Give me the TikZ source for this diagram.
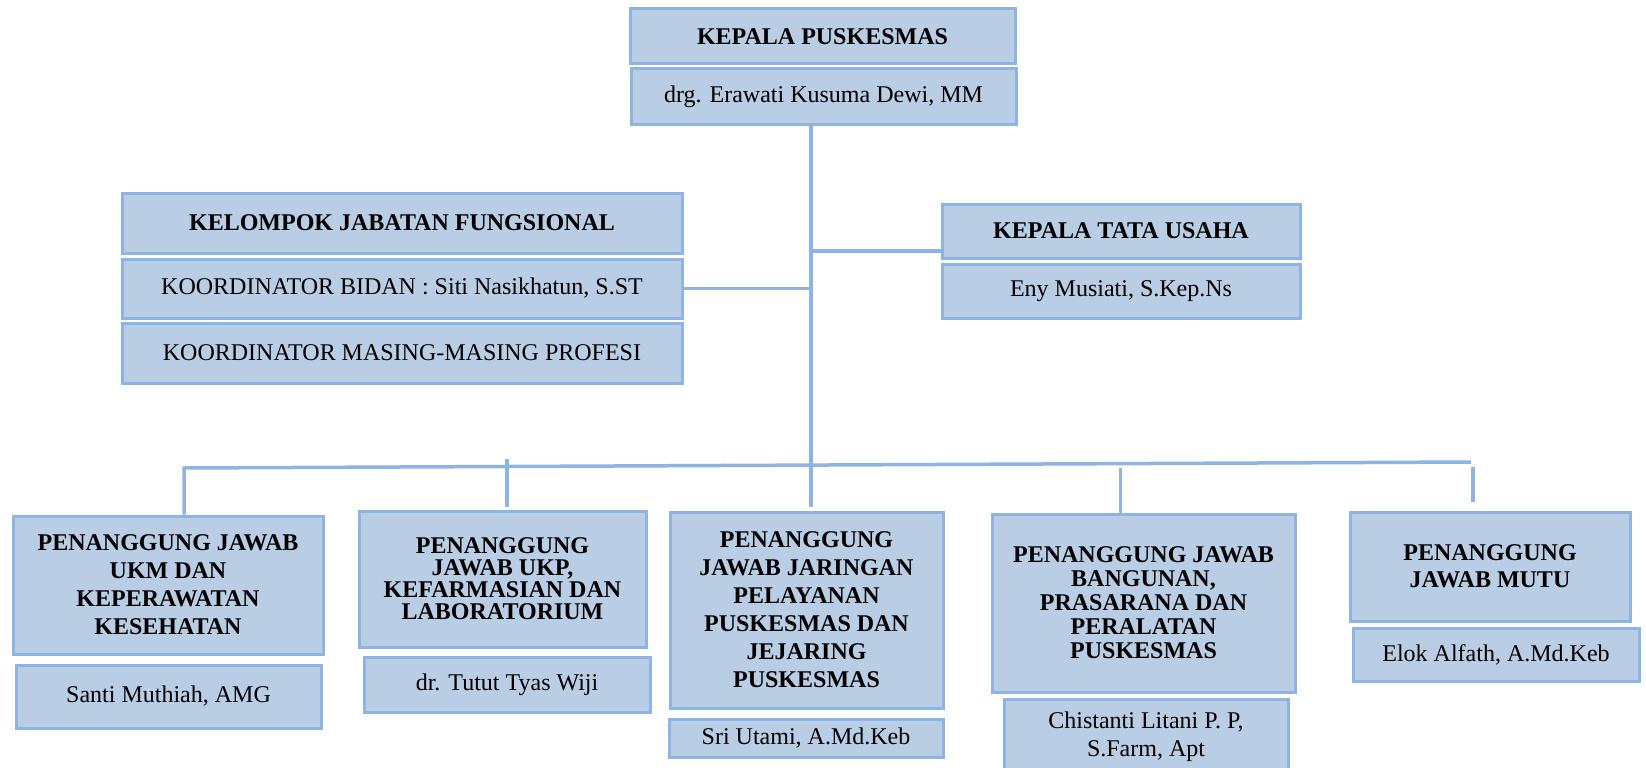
\documentclass[tikz,border=0pt]{standalone}
\usepackage{fontspec}
\setmainfont{Liberation Serif}
\definecolor{boxfill}{HTML}{B9CDE5}
\definecolor{boxline}{HTML}{8EB4E3}
\begin{document}
\begin{tikzpicture}[x=1pt,y=-1pt,
  box/.style={draw=boxline, fill=boxfill, line width=3pt, inner sep=0pt, align=center,
              font=\fontsize{24}{28}\selectfont},
  hd/.style={box, font=\fontsize{24}{28}\selectfont\bfseries},
  conn/.style={draw=boxline, line width=3.5pt}]
\useasboundingbox (0,0) rectangle (1646,768);
\clip (0,0) rectangle (1646,768);
% top
\node[hd, minimum width=385pt, minimum height=55pt] (kp) at (822.5,36.5) {KEPALA PUSKESMAS};
\node[box, minimum width=385pt, minimum height=55pt] (kpn) at (823.5,96.5) {drg. Erawati Kusuma Dewi, MM};
% functional group
\node[hd, minimum width=560pt, minimum height=60pt] (kjf) at (402,223) {KELOMPOK JABATAN FUNGSIONAL};
\node[box, minimum width=560pt, minimum height=59pt] (bidan) at (402,288.5) {KOORDINATOR BIDAN : Siti Nasikhatun, S.ST};
\node[box, minimum width=560pt, minimum height=60pt] (masing) at (402,353) {KOORDINATOR MASING-MASING PROFESI};
% tata usaha
\node[hd, minimum width=358pt, minimum height=54pt] (ktu) at (1121,231) {KEPALA TATA USAHA};
\node[box, minimum width=358pt, minimum height=54pt] (eny) at (1121,291) {Eny Musiati, S.Kep.Ns};
% bottom row
\node[hd, minimum width=310pt, minimum height=138pt] (b1) at (168,585) {PENANGGUNG JAWAB\\UKM DAN\\KEPERAWATAN\\KESEHATAN};
\node[box, minimum width=305pt, minimum height=63pt] (s1) at (168.5,696.5) {Santi Muthiah, AMG};
\node[hd, minimum width=287pt, minimum height=136pt, font=\fontsize{24}{22}\selectfont\bfseries] (b2) at (502.5,579) {PENANGGUNG\\JAWAB UKP,\\KEFARMASIAN DAN\\LABORATORIUM};
\node[box, minimum width=286pt, minimum height=55pt] (s2) at (507,684.5) {dr. Tutut Tyas Wiji};
\node[hd, minimum width=273pt, minimum height=196pt] (b3) at (806.5,610) {PENANGGUNG\\JAWAB JARINGAN\\PELAYANAN\\PUSKESMAS DAN\\JEJARING\\PUSKESMAS};
\node[box, minimum width=274pt, minimum height=38pt] (s3) at (806,738) {Sri Utami, A.Md.Keb};
\node[hd, minimum width=303pt, minimum height=178pt, font=\fontsize{24}{24}\selectfont\bfseries] (b4) at (1143.5,603) {PENANGGUNG JAWAB\\BANGUNAN,\\PRASARANA DAN\\PERALATAN\\PUSKESMAS};
\node[box, minimum width=284pt, minimum height=76pt] (s4) at (1146,737) {Chistanti Litani P. P,\\S.Farm, Apt};
\node[hd, minimum width=280pt, minimum height=109pt, font=\fontsize{24}{27}\selectfont\bfseries] (b5) at (1490,566.5) {PENANGGUNG\\JAWAB MUTU};
\node[box, minimum width=286pt, minimum height=53pt] (s5) at (1496,654.5) {Elok Alfath, A.Md.Keb};
% connector coordinates
\coordinate (trunktop) at (811,124);
\coordinate (trunk) at (811,507);
\coordinate (ktuj) at (811,251);
\coordinate (busl) at (184,468);
\coordinate (busr) at (1471,462);
\coordinate (st2a) at (507,459);
\coordinate (st2b) at (507,507);
\coordinate (st4a) at (1120.6,468);
\coordinate (st4b) at (1120.6,513);
\coordinate (st5a) at (1473,467);
\coordinate (st5b) at (1473,502);
% connectors
\draw[conn] (trunktop) -- (trunk);
\draw[conn] (ktuj) -- (ktuj -| ktu.west);
\draw[conn] (bidan.east) -- (bidan.east -| trunk);
\draw[conn] (busl |- b1.north) -- (busl) -- (busr);
\draw[conn] (st2a) -- (st2b);
\draw[conn] (st4a) -- (st4b);
\draw[conn] (st5a) -- (st5b);
\end{tikzpicture}
\end{document}
